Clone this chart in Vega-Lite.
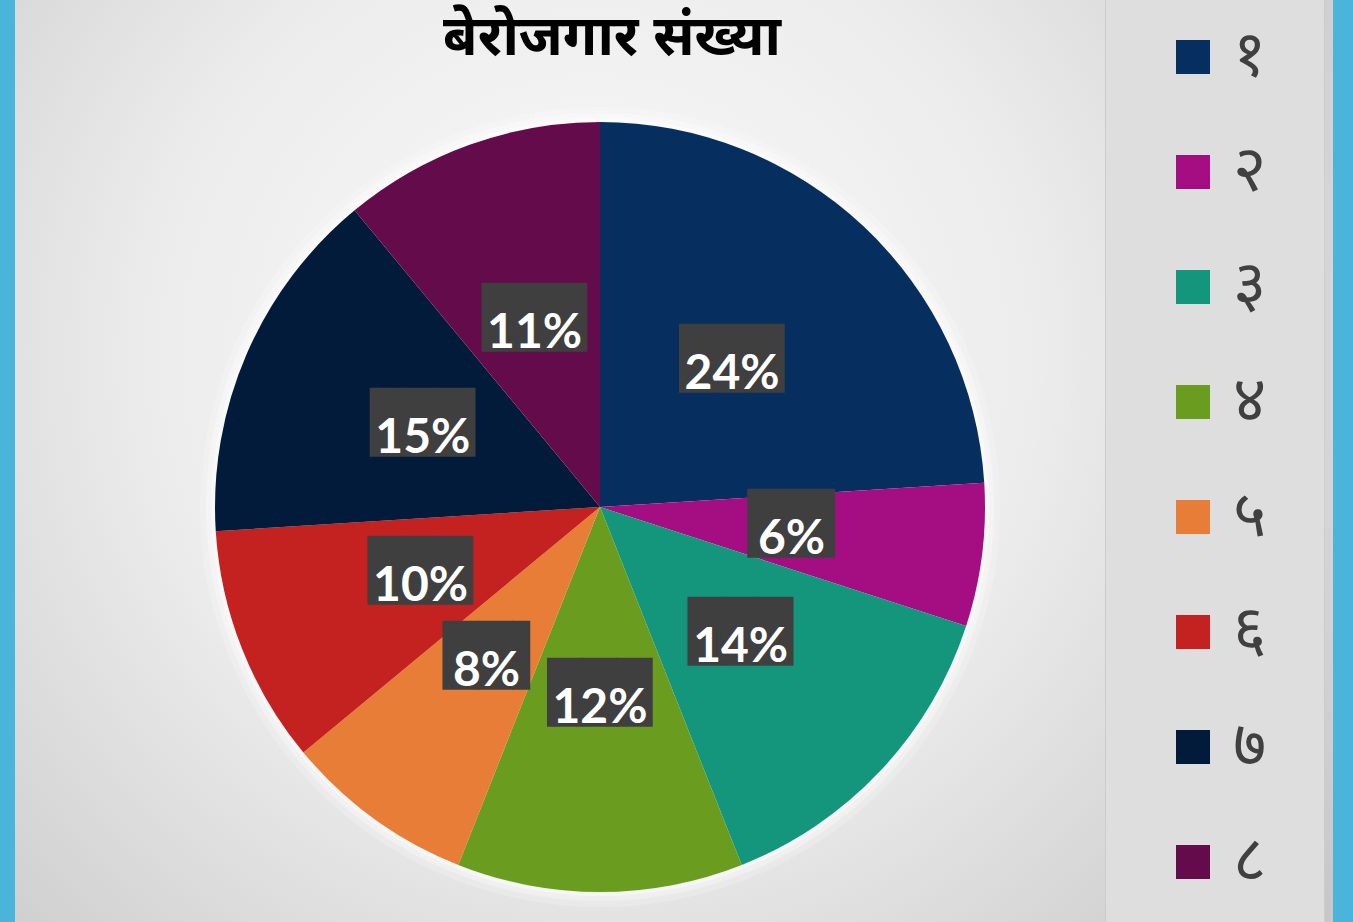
{
  "$schema": "https://vega.github.io/schema/vega-lite/v6.json",
  "width": 1318,
  "height": 922,
  "autosize": {"type": "none"},
  "padding": {"left": 15, "right": 20, "top": 0, "bottom": 0},
  "background": "#4bb4da",
  "config": {"view": {"stroke": null}},
  "title": {
    "text": "बेरोजगार संख्या",
    "font": "Noto Sans",
    "fontSize": 56,
    "fontWeight": "bold",
    "color": "#000000",
    "anchor": "middle",
    "frame": "group",
    "offset": -99,
    "dx": -62
  },
  "data": {
    "values": [
      {"idx": 1, "label": "१", "value": 24, "pct": "24%"},
      {"idx": 2, "label": "२", "value": 6, "pct": "6%"},
      {"idx": 3, "label": "३", "value": 14, "pct": "14%"},
      {"idx": 4, "label": "४", "value": 12, "pct": "12%"},
      {"idx": 5, "label": "५", "value": 8, "pct": "8%"},
      {"idx": 6, "label": "६", "value": 10, "pct": "10%"},
      {"idx": 7, "label": "७", "value": 15, "pct": "15%"},
      {"idx": 8, "label": "८", "value": 11, "pct": "11%"}
    ]
  },
  "layer": [
    {
      "data": {"values": [{}]},
      "mark": {
        "type": "rect",
        "fill": {
          "gradient": "radial",
          "x1": 0.44, "y1": 0.42, "r1": 0,
          "x2": 0.44, "y2": 0.42, "r2": 0.75,
          "stops": [
            {"offset": 0, "color": "#fbfbfb"},
            {"offset": 0.45, "color": "#ececec"},
            {"offset": 1, "color": "#c2c2c2"}
          ]
        }
      }
    },
    {
      "mark": {"type": "arc", "outerRadius": 400, "x": 585, "y": 507, "fill": "#ffffff", "opacity": 0.2},
      "encoding": {
        "theta": {"field": "value", "type": "quantitative", "stack": true},
        "order": {"field": "idx", "type": "quantitative", "sort": "ascending"}
      }
    },
    {
      "mark": {"type": "arc", "outerRadius": 394, "x": 585, "y": 507, "fill": "#ffffff", "opacity": 0.3},
      "encoding": {
        "theta": {"field": "value", "type": "quantitative", "stack": true},
        "order": {"field": "idx", "type": "quantitative", "sort": "ascending"}
      }
    },
    {
      "mark": {"type": "arc", "outerRadius": 389, "x": 585, "y": 507, "fill": "#ffffff", "opacity": 0.4},
      "encoding": {
        "theta": {"field": "value", "type": "quantitative", "stack": true},
        "order": {"field": "idx", "type": "quantitative", "sort": "ascending"}
      }
    },
    {
      "mark": {"type": "arc", "outerRadius": 385, "x": 585, "y": 507},
      "encoding": {
        "theta": {"field": "value", "type": "quantitative", "stack": true},
        "order": {"field": "idx", "type": "quantitative", "sort": "ascending"},
        "color": {
          "field": "label",
          "type": "nominal",
          "sort": null,
          "scale": {
            "domain": ["१", "२", "३", "४", "५", "६", "७", "८"],
            "range": ["#062f5f", "#a50e82", "#14967c", "#6a9d1f", "#e87d37", "#c42220", "#021b3b", "#640c4b"]
          },
          "legend": {
            "title": null,
            "orient": "none",
            "legendX": 1090,
            "legendY": -32,
            "padding": 57,
            "fillColor": "#dedede",
            "strokeColor": "#cccccc",
            "symbolType": "square",
            "symbolSize": 1156,
            "symbolStrokeWidth": 0,
            "symbolOffset": -1,
            "labelFont": "Noto Sans",
            "labelFontSize": 64,
            "labelColor": "#404040",
            "labelOffset": 8,
            "rowPadding": 51
          }
        }
      }
    },
    {
      "mark": {"type": "text", "radius": 193, "x": 585, "y": 507, "dy": -5, "font": "DejaVu Sans Mono", "fontSize": 58, "color": "#3f3f3f"},
      "encoding": {
        "theta": {"field": "value", "type": "quantitative", "stack": true},
        "order": {"field": "idx", "type": "quantitative", "sort": "ascending"},
        "text": {"condition": {"test": "datum.value >= 10", "value": "███"}, "value": ""}
      }
    },
    {
      "mark": {"type": "text", "radius": 193, "x": 585, "y": 507, "dy": -5, "dx": 9, "font": "DejaVu Sans Mono", "fontSize": 58, "color": "#3f3f3f"},
      "encoding": {
        "theta": {"field": "value", "type": "quantitative", "stack": true},
        "order": {"field": "idx", "type": "quantitative", "sort": "ascending"},
        "text": {"condition": {"test": "datum.value < 10", "value": "██▌"}, "value": ""}
      }
    },
    {
      "mark": {"type": "text", "radius": 193, "x": 585, "y": 507, "dy": 9, "font": "Lato", "fontWeight": "bold", "fontSize": 48, "color": "#ffffff"},
      "encoding": {
        "theta": {"field": "value", "type": "quantitative", "stack": true},
        "order": {"field": "idx", "type": "quantitative", "sort": "ascending"},
        "text": {"field": "pct"}
      }
    }
  ]
}
